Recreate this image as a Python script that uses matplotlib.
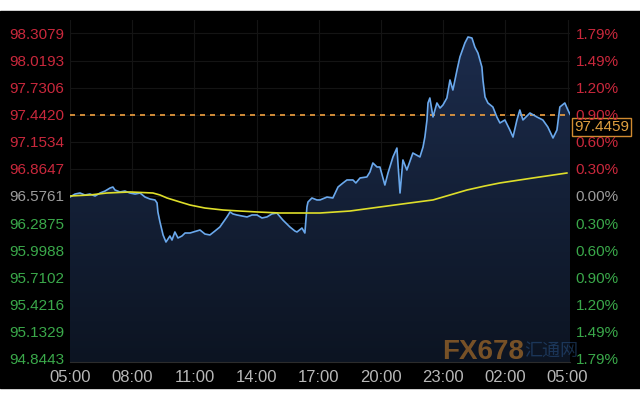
import numpy as np
import matplotlib
matplotlib.use("Agg")
from matplotlib import pyplot as plt
from matplotlib.patches import Rectangle
from matplotlib.colors import LinearSegmentedColormap
import matplotlib.transforms as mtransforms

plt.rcParams['font.family'] = ['Liberation Sans', 'DejaVu Sans']

# price series, hours after 05:00
hours = [0.00, 0.24, 0.48, 0.72, 0.96, 1.21, 1.45, 1.69, 1.93, 2.07, 2.17, 2.41,
         2.65, 2.89, 3.14, 3.38, 3.62, 3.86, 4.10, 4.20, 4.24, 4.34, 4.49, 4.63,
         4.82, 4.92, 5.06, 5.21, 5.40, 5.55, 5.79, 6.27, 6.51, 6.75, 6.99, 7.23,
         7.57, 7.72, 7.86, 8.05, 8.30, 8.54, 8.78, 9.02, 9.26, 9.50, 9.74, 9.98,
         10.27, 10.61, 10.85, 10.95, 11.19, 11.33, 11.43, 11.48, 11.67, 11.91,
         12.06, 12.40, 12.68, 12.93, 13.17, 13.36, 13.65, 13.79, 13.99, 14.32,
         14.47, 14.61, 14.81, 14.95, 15.19, 15.34, 15.58, 15.77, 15.92, 16.06,
         16.25, 16.54, 16.88, 17.03, 17.12, 17.22, 17.27, 17.36, 17.51, 17.70,
         17.85, 17.99, 18.18, 18.33, 18.47, 18.67, 18.81, 19.05, 19.20, 19.39,
         19.53, 19.68, 19.87, 19.92, 20.02, 20.16, 20.40, 20.59, 20.74, 20.98,
         21.22, 21.37, 21.56, 21.70, 21.85, 22.19, 22.52, 22.81, 23.05, 23.30,
         23.49, 23.63, 23.87, 24.02, 24.12]
price = [96.565, 96.597, 96.608, 96.587, 96.597, 96.576, 96.608, 96.629, 96.661,
         96.672, 96.640, 96.619, 96.629, 96.608, 96.597, 96.608, 96.565, 96.544,
         96.534, 96.502, 96.406, 96.299, 96.161, 96.086, 96.150, 96.107, 96.193,
         96.129, 96.150, 96.182, 96.182, 96.214, 96.171, 96.161, 96.203, 96.246,
         96.353, 96.406, 96.385, 96.374, 96.363, 96.353, 96.374, 96.374, 96.342,
         96.353, 96.385, 96.395, 96.320, 96.246, 96.203, 96.193, 96.235, 96.182,
         96.459, 96.512, 96.555, 96.534, 96.534, 96.565, 96.555, 96.672, 96.715,
         96.747, 96.747, 96.715, 96.768, 96.779, 96.832, 96.928, 96.885, 96.885,
         96.693, 96.821, 96.992, 97.087, 96.608, 96.960, 96.853, 97.034, 96.992,
         97.098, 97.205, 97.386, 97.567, 97.620, 97.418, 97.567, 97.513, 97.545,
         97.620, 97.812, 97.705, 97.918, 98.057, 98.206, 98.270, 98.259, 98.163,
         98.099, 97.950, 97.812, 97.631, 97.567, 97.524, 97.418, 97.354, 97.386,
         97.279, 97.204, 97.386, 97.492, 97.386, 97.460, 97.418, 97.386, 97.311,
         97.194, 97.279, 97.524, 97.567, 97.492, 97.4459]

# moving average
ma_hours = [0, 0.96, 1.78, 2.89, 4.00, 4.34, 4.68, 5.31, 5.79, 6.51, 7.38, 8.20,
            9.02, 10.13, 11.09, 12.06, 13.50, 14.95, 16.40, 17.51, 18.33, 19.15,
            20.02, 20.74, 22.33, 23.97]
ma_price = [96.576, 96.587, 96.608, 96.619, 96.608, 96.587, 96.555, 96.512, 96.480,
            96.448, 96.427, 96.416, 96.406, 96.395, 96.395, 96.395, 96.416, 96.459,
            96.502, 96.534, 96.587, 96.640, 96.683, 96.715, 96.768, 96.821]

base = 96.5761
ref_line = 97.4420
last_price = 97.4459
y_ticks = [94.8443, 95.1329, 95.4216, 95.7102, 95.9988, 96.2875, 96.5761,
           96.8647, 97.1534, 97.4420, 97.7306, 98.0193, 98.3079]
pct_labels = ['1.79%', '1.49%', '1.20%', '0.90%', '0.60%', '0.30%', '0.00%',
              '0.30%', '0.60%', '0.90%', '1.20%', '1.49%', '1.79%']
x_ticks = [0, 3, 6, 9, 12, 15, 18, 21, 24]
x_labels = ['05:00', '08:00', '11:00', '14:00', '17:00', '20:00', '23:00',
            '02:00', '05:00']

red = '#c9283c'
green = '#3aa84a'
gray = '#9c9c9c'

def tick_color(t):
    if abs(t - base) < 1e-6:
        return gray
    return red if t > base else green

fig = plt.figure(figsize=(6.4, 4), dpi=100, facecolor='white')
fig.patches.append(Rectangle((0, 12 / 400), 1, 377 / 400, transform=fig.transFigure,
                             color='black', zorder=-10))

ax = fig.add_axes([70 / 640, 38 / 400, 500 / 640, 342 / 400])
ax.set_facecolor('black')
ax.set_xlim(0, 24.12)
ax.set_ylim(94.808, 98.4507)

# gradient fill under the price line
fill = ax.fill_between(hours, price, 94.808, color='none')
cmap = LinearSegmentedColormap.from_list('navy', ['#0c1422', '#1c2c4c'])
grad = np.linspace(0, 1, 256).reshape(-1, 1)
img = ax.imshow(grad, extent=[0, 24.12, 94.808, 98.30], origin='lower',
                cmap=cmap, aspect='auto', zorder=1)
path = fill.get_paths()[0]
img.set_clip_path(path, transform=ax.transData)

ax.plot(hours, price, color='#6aa8ec', lw=1.2, zorder=3)
ax.plot(ma_hours, ma_price, color='#dede2a', lw=1.2, zorder=4)
ax.axhline(ref_line, color='#f0a040', lw=1.2, dashes=(3, 3), zorder=2)

# grid
for t in y_ticks:
    ax.axhline(t, color='#141414', lw=0.8, zorder=0)
for t in x_ticks:
    ax.axvline(t, color='#141414', lw=0.8, zorder=0)

for s in ['top', 'left', 'right']:
    ax.spines[s].set_visible(False)
ax.spines['bottom'].set_color('#2c2c2c')

ax.set_yticks(y_ticks)
ax.set_yticklabels([f'{t:.4f}' for t in y_ticks], fontsize=11)
for lab, t in zip(ax.get_yticklabels(), y_ticks):
    lab.set_color(tick_color(t))
ax.tick_params(axis='y', length=0, pad=4)

ax.set_xticks(x_ticks)
ax.set_xticklabels(x_labels, fontsize=12, color='#b8b8b8')
ax.tick_params(axis='x', length=0, pad=6)

ax2 = ax.twinx()
ax2.set_ylim(ax.get_ylim())
ax2.set_yticks(y_ticks)
ax2.set_yticklabels(pct_labels, fontsize=11)
for lab, t in zip(ax2.get_yticklabels(), y_ticks):
    lab.set_color(tick_color(t))
ax2.tick_params(axis='y', length=0, pad=4)
for s in ax2.spines.values():
    s.set_visible(False)

# last price box
trans = mtransforms.blended_transform_factory(ax.transAxes, ax.transData)
ax.annotate(f'{last_price:.4f}', xy=(1.0, last_price), xycoords=trans,
            xytext=(3, -4), textcoords='offset points', ha='left', va='top',
            fontsize=11, color='#e0a040', zorder=6, annotation_clip=False,
            bbox=dict(boxstyle='square,pad=0.12', fc='black', ec='#d08a30', lw=1))

# watermark
fig.text(0.755, 0.12, 'FX678', fontsize=20, fontweight='bold', color='#c07a2a',
         alpha=0.6, ha='center', va='center')
fig.text(0.862, 0.12, '汇通网', fontsize=13, color='#2f5f9a', alpha=0.45,
         ha='center', va='center', family=['Noto Sans CJK SC', 'DejaVu Sans'])

plt.savefig('out.png', dpi=100, facecolor='white')
